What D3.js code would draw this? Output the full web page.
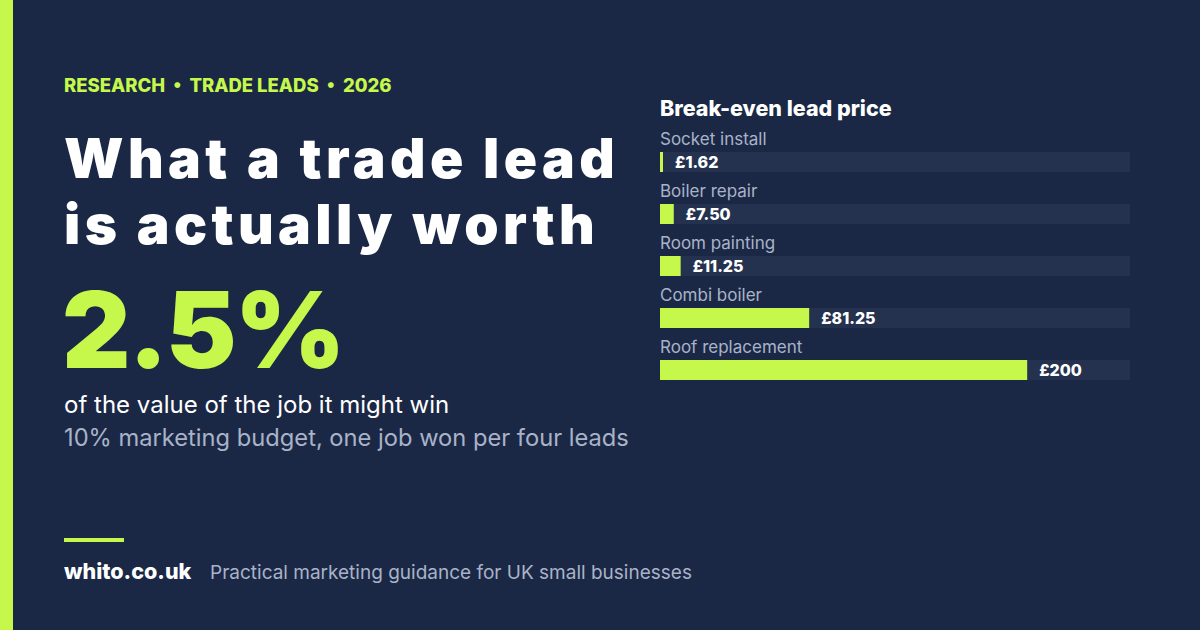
<!DOCTYPE html>
<html><head><meta charset="utf-8">
<script src="https://cdn.jsdelivr.net/npm/d3@7"></script>
<style>
body{margin:0;background:#1b2845;}
svg{display:block;}
</style></head><body>
<script>
// Chart data
var categories = ['Socket install', 'Boiler repair', 'Room painting', 'Combi boiler', 'Roof replacement'];
var prices = [1.62, 7.50, 11.25, 81.25, 200];
var priceLabels = ['£1.62', '£7.50', '£11.25', '£81.25', '£200'];

var lime = '#c6f84c';
var W = 1200, H = 630;
var svg = d3.select('body').append('svg').attr('width', W).attr('height', H);
var head = 'Inter, "Open Sans", sans-serif';

svg.append('rect').attr('width', W).attr('height', H).attr('fill', '#1b2845');
svg.append('rect').attr('width', 13).attr('height', H).attr('fill', lime);

// Left text block
svg.append('text').attr('x', 64).attr('y', 92)
    .attr('fill', lime).attr('font-family', head).attr('font-weight', 800).attr('font-size', 18.5)
    .attr('xml:space', 'preserve')
    .text('RESEARCH  •  TRADE LEADS  •  2026');

['What a trade lead', 'is actually worth'].forEach(function (t, i) {
    svg.append('text').attr('x', 64).attr('y', 178 + i * 66)
        .attr('fill', '#fff').attr('font-family', head).attr('font-weight', 900)
        .attr('font-size', 55).attr('letter-spacing', 4.4).text(t);
});

svg.append('text').attr('x', 62).attr('y', 368)
    .attr('fill', lime).attr('font-family', head).attr('font-weight', 900)
    .attr('font-size', 106).attr('letter-spacing', -2).text('2.5%');

svg.append('text').attr('x', 64).attr('y', 413)
    .attr('fill', '#fff').attr('font-family', head).attr('font-size', 24).text('of the value of the job it might win');
svg.append('text').attr('x', 64).attr('y', 446)
    .attr('fill', '#a9b3c8').attr('font-family', head).attr('font-size', 23.7).text('10% marketing budget, one job won per four leads');

svg.append('rect').attr('x', 64).attr('y', 538).attr('width', 60).attr('height', 4).attr('fill', lime);
svg.append('text').attr('x', 64).attr('y', 579)
    .attr('fill', '#fff').attr('font-family', head).attr('font-weight', 800).attr('font-size', 21.5).text('whito.co.uk');
svg.append('text').attr('x', 210).attr('y', 579)
    .attr('fill', '#a9b3c8').attr('font-family', head).attr('font-size', 19)
    .text('Practical marketing guidance for UK small businesses');

// Bar chart
var x = d3.scaleLinear().domain([0, 256]).range([660, 1130]);
var y = d3.scaleBand().domain(categories).range([126, 386]);

svg.append('text').attr('x', 660).attr('y', 116)
    .attr('fill', '#fff').attr('font-family', head).attr('font-weight', 800).attr('font-size', 21.5)
    .text('Break-even lead price');

var row = svg.selectAll('g.row').data(categories).enter().append('g')
    .attr('class', 'row')
    .attr('transform', function (d) { return 'translate(0,' + y(d) + ')'; });

row.append('text').attr('x', 660).attr('y', 19)
    .attr('fill', '#a9b3c8').attr('font-family', head).attr('font-size', 17)
    .text(function (d) { return d; });

row.append('rect').attr('x', x(0)).attr('y', 26)
    .attr('width', x(256) - x(0)).attr('height', 20).attr('fill', '#24324f');

row.append('rect').attr('x', x(0)).attr('y', 26)
    .attr('width', function (d, i) { return Math.max(3, x(prices[i]) - x(0)); })
    .attr('height', 20).attr('fill', lime);

row.append('text')
    .attr('x', function (d, i) { return Math.max(x(0) + 3, x(prices[i])) + 12; })
    .attr('y', 42)
    .attr('fill', '#fff').attr('font-family', head).attr('font-weight', 800).attr('font-size', 16)
    .text(function (d, i) { return priceLabels[i]; });
</script>
</body></html>
